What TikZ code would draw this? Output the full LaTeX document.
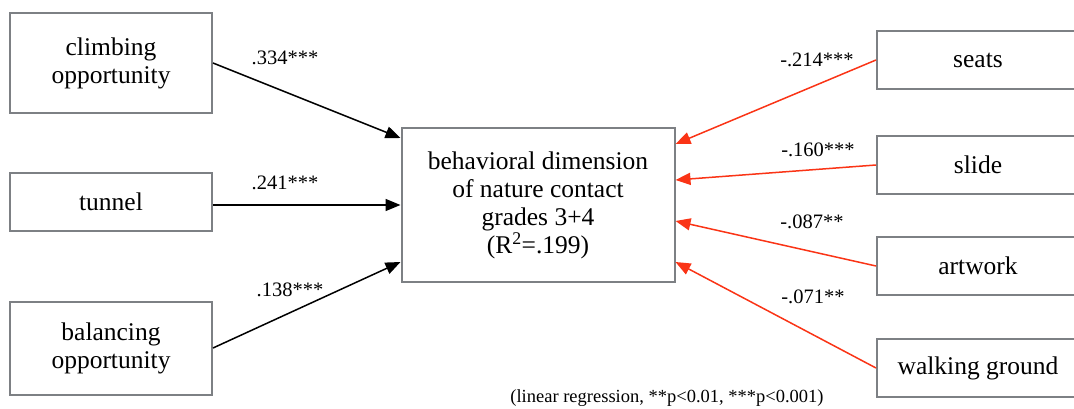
\documentclass[tikz,border=0pt]{standalone}
\usepackage{fontspec}
\setmainfont{Liberation Serif}
\usetikzlibrary{arrows.meta}

\definecolor{boxgray}{RGB}{125,128,132}
\definecolor{negred}{RGB}{250,52,22}

\tikzset{
  box/.style={draw=boxgray, line width=2pt, fill=white, align=center,
    minimum width=202pt, inner sep=2pt,
    font=\fontsize{25.5pt}{28pt}\selectfont},
  coef/.style={font=\fontsize{20.5pt}{24pt}\selectfont, inner sep=1pt},
  posarr/.style={line width=1.5pt, -{Triangle[length=15pt,width=12pt]}},
  negarr/.style={posarr, draw=negred, fill=negred}
}

\begin{document}
\begin{tikzpicture}[x=1pt,y=-1pt]
  \useasboundingbox (0,0) rectangle (1074,409);

  % left predictors
  \node[box, minimum height=100pt] (climb) at (111,63) {climbing\\opportunity};
  \node[box, minimum height=58pt] (tunnel) at (111,202) {tunnel};
  \node[box, minimum height=93pt] (balance) at (111,348) {balancing\\opportunity};

  % outcome
  \node[box, minimum width=273pt, minimum height=153pt] (dv) at (538,205)
    {behavioral dimension\\of nature contact\\grades 3+4\\(R\textsuperscript{2}=.199)};

  % right predictors
  \foreach \n/\y/\t in {seats/60/seats, slide/165/slide, artwork/266/artwork, walk/368/walking ground} {
    \node[box, minimum height=58pt] (\n) at (978,\y) {\t};
  }

  \draw[posarr] (climb.east) -- ([yshift=67pt]dv.west);
  \draw[posarr] (tunnel.east |- dv.west) -- (dv.west);
  \draw[posarr] (balance.east) -- ([yshift=-57pt]dv.west);

  \foreach \n/\s in {seats/61, slide/25, artwork/-16, walk/-57} {
    \draw[negarr] (\n.west) -- ([yshift=\s pt]dv.east);
  }

  % coefficients
  \node[coef] (cclimb) at (285,58) {.334***};
  \node[coef] (ctunnel) at (285,183) {.241***};
  \node[coef] (cbalance) at (290,290) {.138***};
  \node[coef] (cseats) at (817,60) {-.214***};
  \node[coef] (cslide) at (818,150) {-.160***};
  \node[coef] (cartwork) at (812,222) {-.087**};
  \node[coef] (cwalk) at (813,297) {-.071**};

  \node[font=\fontsize{18.5pt}{21pt}\selectfont] (note) at (667,398)
    {(linear regression, **p<0.01, ***p<0.001)};
\end{tikzpicture}
\end{document}
